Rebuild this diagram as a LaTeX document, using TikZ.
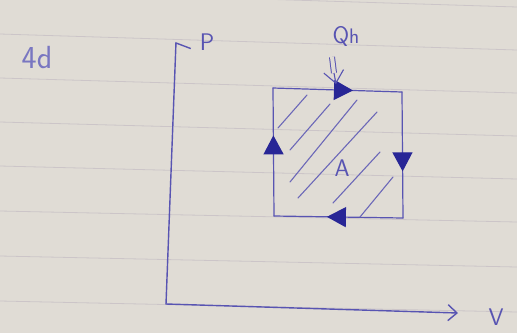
\documentclass[tikz,border=0pt]{standalone}
\usepackage{tikz}
\usetikzlibrary{arrows.meta,decorations.markings}

\definecolor{paper}{RGB}{224,220,213}
\definecolor{rule}{RGB}{204,197,200}
\definecolor{ink}{RGB}{88,84,178}
\definecolor{darkink}{RGB}{40,38,150}
\definecolor{hatchink}{RGB}{108,104,184}

\begin{document}
\begin{tikzpicture}[x=1pt, y=-1pt,
  label/.style={text=ink, font=\sffamily\fontsize{24}{24}\selectfont, inner sep=0pt},
  axis/.style={ink, line width=1.4pt, line cap=round},
  side/.style={ink, line width=1.2pt, line cap=round, postaction={decorate},
    decoration={markings, mark=at position #1 with {\arrow[darkink]{Triangle[length=19pt, width=20pt]}}}},
  hatch/.style={hatchink, line width=1.1pt, line cap=round}]
% paper
\fill[paper] (0,0) rectangle (517,333);
\useasboundingbox (0,0) rectangle (517,333);
\foreach \a/\b in {-9/7, 34/50, 78/93, 122/136, 166/179, 211/222, 256/267, 301/312}
  \draw[rule, line width=0.8pt] (0,\a) -- (517,\b);

% labels
\node[label, font=\sffamily\fontsize{32}{32}\selectfont, text=ink!80] (note) at (37,58) {4d};
\node[label] (P) at (207,42) {P};
\node[label] (V) at (496,317) {V};
\node[label] (Qh) at (346,36) {Q{\fontsize{21}{21}\selectfont h}};
\node[label] (A) at (342,168) {A};

% axes
\coordinate (O) at (166,304);
\coordinate (ptop) at (176,42);
\coordinate (vend) at (458,313);
\draw[axis, -{Straight Barb[right, length=5pt, width=30pt]}] (O) -- (ptop);
\draw[axis, -{Straight Barb[length=9pt, width=16pt]}] (O) -- (vend);

% cycle
\coordinate (tl) at (273,88);
\coordinate (tr) at (402,92);
\coordinate (br) at (403,218);
\coordinate (bl) at (274,216);
\draw[side=0.62] (tl) -- (tr);
\draw[side=0.63] (tr) -- (br);
\draw[side=0.59] (br) -- (bl);
\draw[side=0.63] (bl) -- (tl);

% hatching
\foreach \a/\b/\c/\d in {278/128/307/95, 290/150/330/104, 290/182/357/100,
  298/198/377/112, 333/203/380/152, 360/217/393/177}
  \draw[hatch] (\a,\b) -- (\c,\d);

% heat in
\coordinate (qtop) at (332,57);
\coordinate (qmid) at (334,73);
\coordinate (qin) at (336,84);
\draw[ink, line width=1pt, double=paper, double distance=4pt] (qtop) -- (qmid);
\draw[ink, line width=1.1pt, -{Straight Barb[length=12pt, width=20pt]}] (qmid) -- (qin);
\end{tikzpicture}
\end{document}
